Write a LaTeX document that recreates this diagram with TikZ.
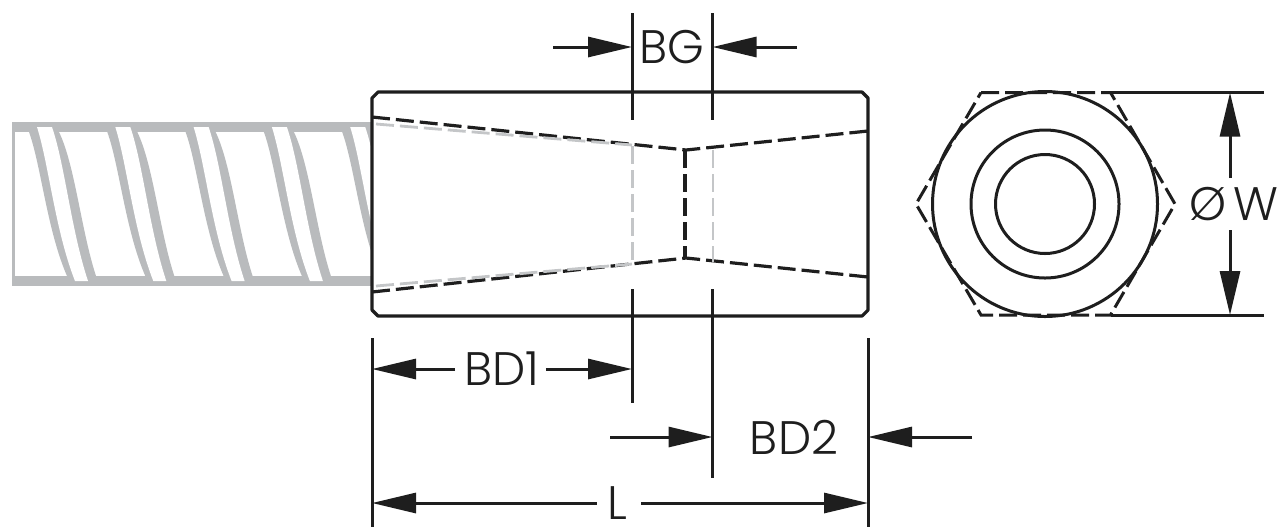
\documentclass[tikz,border=0pt]{standalone}
\usepackage{fontspec}
\setmainfont{Poppins Light}
\usetikzlibrary{arrows.meta}
\definecolor{ink}{HTML}{1E1E1E}
\definecolor{thr}{HTML}{B9BBBD}
\definecolor{hid}{HTML}{C4C6C8}
\tikzset{
  outline/.style={draw=ink,line width=1.6pt,line join=round},
  ext/.style={draw=ink,line width=1.5pt},
  dim/.style={draw=ink,line width=1.5pt,-{Triangle[length=22pt,width=10pt]}},
  hidden/.style={draw=ink,line width=1.6pt,dash pattern=on 9pt off 3pt},
  hiddenhex/.style={draw=ink,line width=1.5pt,dash pattern=on 9pt off 3pt},
  hiddengrey/.style={draw=hid,line width=1.4pt,dash pattern=on 9pt off 3pt},
  ring/.style={draw=ink,line width=1.5pt,circle,inner sep=0pt},
  lab/.style={inner sep=0pt,font=\fontsize{23.5}{23.5}\selectfont,text=ink},
}
\begin{document}
\begin{tikzpicture}[x=0.5pt,y=-0.5pt]
\useasboundingbox (0,0) rectangle (1277,527);
% threaded stud
\fill[thr] (12,122) rectangle (373,286);
\fill[white] (15,132) rectangle (373,276);
\begin{scope}
\clip (12,122) rectangle (372,286);
\foreach \d in {0,78.3,156.6,234.9,313.2}{
\begin{scope}[shift={(\d,0)}]
\fill[thr] (29,132) .. controls (41,165) and (47,230) .. (67,276) -- (96,276)
  .. controls (81,230) and (75,165) .. (59,132) -- cycle;
\fill[white] (37,127) .. controls (49,165) and (55,230) .. (75,281) -- (88,281)
  .. controls (71,230) and (65,165) .. (52,127) -- cycle;
\end{scope}}
\end{scope}
% coordinates
\coordinate (bgLt) at (632,13); \coordinate (bgLb) at (632,120);
\coordinate (bgRt) at (712.5,13); \coordinate (bgRb) at (712.5,120);
\coordinate (lowLt) at (632,289); \coordinate (lowLb) at (632,403);
\coordinate (lowRt) at (712.5,289); \coordinate (lowRb) at (712.5,478);
\coordinate (edgeLt) at (372,338); \coordinate (edgeLb) at (372,527);
\coordinate (edgeRt) at (868,338); \coordinate (edgeRb) at (868,527);
\coordinate (bgA) at (553,47); \coordinate (bgAe) at (632,47);
\coordinate (bgB) at (797,47); \coordinate (bgBe) at (712.5,47);
\coordinate (bd1a) at (372,369); \coordinate (bd1b) at (632,369);
\coordinate (bd2A) at (610,437); \coordinate (bd2Ae) at (712.5,437);
\coordinate (bd2B) at (972,437); \coordinate (bd2Be) at (868,437);
\coordinate (la) at (372,503); \coordinate (lb) at (868,503);
\coordinate (hexTR) at (1110.5,92.5); \coordinate (hexBR) at (1110.5,315);
\coordinate (wTopEnd) at (1264,92.5); \coordinate (wBotEnd) at (1264,315);
\coordinate (wTop) at (1230,92.5); \coordinate (wBot) at (1230,315);
\coordinate (wTopS) at (1230,178); \coordinate (wBotS) at (1230,230);
% hidden lines in the body
\draw[hidden] (372,117) -- (686,150) -- (868,131);
\draw[hidden] (372,292) -- (686,258) -- (868,277);
\draw[hidden] (685,150) -- (685,258);
\draw[hiddengrey] (376,124) -- (632,145);
\draw[hiddengrey] (376,286) -- (632,264);
\draw[hiddengrey] (632.5,146) -- (632.5,263);
\draw[hiddengrey] (713,150) -- (713,262);
% body
\draw[outline] (378,92) -- (862,92) -- (868,98) -- (868,310) -- (862,316) -- (378,316) -- (372,310) -- (372,98) -- cycle;
% extension lines
\draw[ext] (bgLt) -- (bgLb);
\draw[ext] (bgRt) -- (bgRb);
\draw[ext] (lowLt) -- (lowLb);
\draw[ext] (lowRt) -- (lowRb);
\draw[ext] (edgeLt) -- (edgeLb);
\draw[ext] (edgeRt) -- (edgeRb);
% labels
\node[lab] (bg) at (672,47) {BG};
\node[lab] (bd1) at (502,369) {BD1};
\node[lab] (bd2) at (794,437) {BD2};
\node[lab] (l) at (617,503) {L};
\node[lab] (w) at (1234,204) {Ø\,W};
% dimensions
\draw[dim] (bgA) -- (bgAe);
\draw[dim] (bgB) -- (bgBe);
\draw[dim] (bd1.west) ++(-9,0) -- (bd1a);
\draw[dim] (bd1.east) ++(6,0) -- (bd1b);
\draw[dim] (bd2A) -- (bd2Ae);
\draw[dim] (bd2B) -- (bd2Be);
\draw[dim] (l.west) ++(-10,0) -- (la);
\draw[dim] (l.east) ++(14,0) -- (lb);
\draw[dim] (wTopS) -- (wTop);
\draw[dim] (wBotS) -- (wBot);
% end view
\node[ring,minimum size=112.5pt] (c1) at (1045,204) {};
\node[ring,minimum size=74pt] (c2) at (1045,204) {};
\node[ring,minimum size=49.5pt] (c3) at (1045,204) {};
\draw[hiddenhex] (981,92.5) -- (hexTR) -- (1175,204) -- (hexBR) -- (981,315) -- (916,204) -- cycle;
\draw[ext] (hexTR) -- (wTopEnd);
\draw[ext] (hexBR) -- (wBotEnd);
\end{tikzpicture}
\end{document}
